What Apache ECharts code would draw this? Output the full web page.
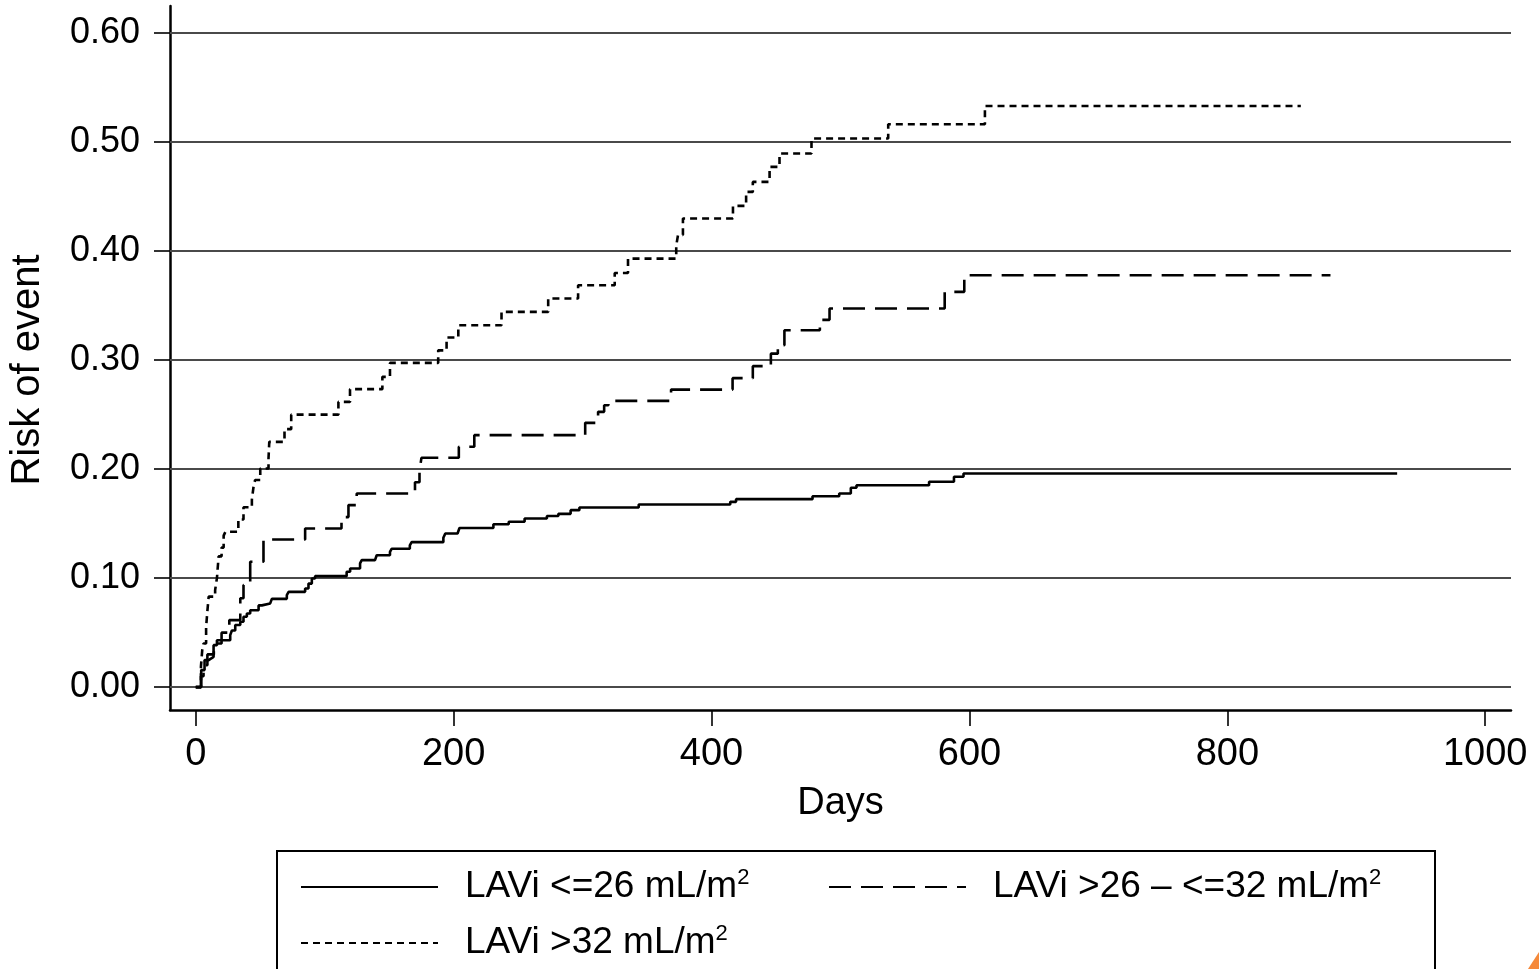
<!DOCTYPE html>
<html>
<head>
<meta charset="utf-8">
<script src="https://cdn.jsdelivr.net/npm/echarts@6/dist/echarts.min.js"></script>
<style>
  html, body { margin: 0; padding: 0; background: #fff; }
  #chart { width: 1539px; height: 969px; }
</style>
</head>
<body>
<div id="chart"></div>
<script>
// ── Данные ───────────────────────────────────────────────────────────────
var xTicks = [0, 200, 400, 600, 800, 1000];
var yTicks = [0, 0.1, 0.2, 0.3, 0.4, 0.5, 0.6];
var seriesNames = ['LAVi <=26 mL/m²', 'LAVi >26 – <=32 mL/m²', 'LAVi >32 mL/m²'];

// LAVi <=26
var lowDays = [0, 4.2, 6.8, 10, 12, 13.8, 16.4, 26.7, 28, 30.6, 34.5, 37, 39.6, 42.2, 48.7, 51.3, 57.7, 59,
  70.6, 72, 84.8, 87.4, 90, 92.5, 117, 119.7, 127.4, 128.7, 139, 140.3, 150.6, 152, 166, 167.4, 192, 193.5,
  203, 204.5, 230.8, 242.7, 255, 272.3, 281.2, 290.7, 297.5, 343.5, 414.5, 419, 478.3, 499, 508, 512.4,
  568.7, 588, 595.4, 931.7];
var lowRisk = [0, 0.0156, 0.0248, 0.0263, 0.0278, 0.0385, 0.043, 0.0477, 0.052, 0.057, 0.060, 0.0645, 0.0676,
  0.0706, 0.075, 0.0768, 0.078, 0.081, 0.0844, 0.0874, 0.0905, 0.095, 0.0997, 0.1018, 0.1058, 0.1089, 0.1135,
  0.1165, 0.118, 0.121, 0.124, 0.127, 0.130, 0.133, 0.137, 0.141, 0.1425, 0.146, 0.1495, 0.1517, 0.1547, 0.157,
  0.159, 0.1624, 0.1648, 0.1676, 0.170, 0.1725, 0.1752, 0.1777, 0.183, 0.1853, 0.1884, 0.193, 0.196, 0.196];

// LAVi >26 – <=32
var midDays = [0, 4, 6, 9, 14, 20, 26, 34.5, 37, 42.2, 52.5, 84.8, 113, 118.4, 124.8, 170, 173.5, 175, 204,
  216, 302, 312, 316.7, 320, 368.6, 416.3, 432, 446, 451.4, 456.5, 484, 491.5, 580.8, 596, 880];
var midRisk = [0, 0.01, 0.02, 0.03, 0.04, 0.05, 0.0615, 0.0815, 0.0936, 0.115, 0.1355, 0.1456, 0.156, 0.167,
  0.1777, 0.188, 0.198, 0.2104, 0.2205, 0.2312, 0.2425, 0.2526, 0.2587, 0.2627, 0.273, 0.2835, 0.2945, 0.306,
  0.3138, 0.3275, 0.337, 0.3474, 0.3627, 0.378, 0.378];

// LAVi >32
var highDays = [0, 4, 5, 6, 8, 9, 10, 15, 16.4, 17.7, 20, 21.6, 23, 33, 37, 43.5, 44.8, 46, 50, 56.4, 57, 68.8,
  74, 110.6, 119.6, 144.7, 150.6, 188, 194.5, 203.6, 237.1, 273.3, 296.5, 324.9, 335.2, 372.6, 374, 377.8,
  416.6, 426.8, 432, 445, 452.7, 477.5, 537, 612, 857];
var highRisk = [0, 0.019, 0.034, 0.04, 0.055, 0.07, 0.083, 0.089, 0.1, 0.12, 0.128, 0.139, 0.1425, 0.1538,
  0.165, 0.172, 0.184, 0.19, 0.2006, 0.21, 0.225, 0.2367, 0.25, 0.2617, 0.2734, 0.2847, 0.2975, 0.309, 0.3208,
  0.332, 0.3443, 0.3566, 0.3688, 0.38, 0.3932, 0.405, 0.415, 0.43, 0.4416, 0.4544, 0.4636, 0.4774, 0.4896,
  0.5034, 0.5165, 0.5333, 0.5333];

// ── Вспомогательные функции ─────────────────────────────────────────────
var FONT = "'Liberation Sans', Arial, sans-serif";

function _pairs(days, risk) {
  return days.map(function (d, i) { return [d, risk[i]]; });
}

function _stepSeries(name, days, risk, dash) {
  return {
    name: name,
    type: 'line',
    step: 'end',
    symbol: 'none',
    z: 3,
    color: '#000',
    data: _pairs(days, risk),
    lineStyle: { color: '#000', width: 2.6, type: dash }
  };
}

function _legend(name, left, top) {
  return {
    data: [name],
    left: left,
    top: top,
    itemWidth: 137,
    itemHeight: 20,
    selectedMode: false,
    // без кружка-маркера, только линия
    itemStyle: { color: 'rgba(0,0,0,0)', borderWidth: 0, opacity: 0 },
    formatter: function (n) { return '{a|' + n.replace('²', '') + '}{s|2}'; },
    textStyle: {
      color: '#000',
      fontFamily: FONT,
      rich: {
        a: { fontSize: 37, lineHeight: 40, fontFamily: FONT, color: '#000', padding: [0, 0, 0, 22] },
        s: { fontSize: 22, lineHeight: 22, fontFamily: FONT, color: '#000', verticalAlign: 'top' }
      }
    }
  };
}

// ── График ──────────────────────────────────────────────────────────────
var chart = echarts.init(document.getElementById('chart'));

var low = _stepSeries(seriesNames[0], lowDays, lowRisk, 'solid');
low.markLine = {
  silent: true,
  symbol: 'none',
  z: 1,
  animation: false,
  label: { show: false },
  lineStyle: { color: '#4a4a4a', width: 1.8, type: 'solid' },
  data: yTicks.map(function (v) { return { yAxis: v }; })
};

chart.setOption({
  animation: false,
  backgroundColor: '#fff',
  textStyle: { fontFamily: FONT },
  grid: { left: 169, right: 28, top: 6, bottom: 259 },
  legend: [
    _legend(seriesNames[0], 295, 862),
    _legend(seriesNames[1], 823, 862),
    _legend(seriesNames[2], 295, 918)
  ],
  xAxis: {
    type: 'value',
    min: -20,
    max: 1020,
    name: 'Days',
    nameLocation: 'middle',
    nameGap: 75,
    nameTextStyle: { fontSize: 38, color: '#000', fontFamily: FONT },
    axisLine: { show: true, onZero: false, lineStyle: { color: '#000', width: 2.5 } },
    axisTick: { show: true, customValues: xTicks, length: 16, lineStyle: { color: '#000', width: 1.6 } },
    axisLabel: {
      customValues: xTicks,
      margin: 26,
      fontSize: 38,
      color: '#000',
      fontFamily: FONT,
      formatter: function (v) { return String(v); }
    },
    splitLine: { show: false }
  },
  yAxis: {
    type: 'value',
    min: -0.021,
    max: 0.625,
    name: 'Risk of event',
    nameLocation: 'middle',
    nameRotate: 90,
    nameGap: 122,
    nameTextStyle: { fontSize: 40, color: '#000', fontFamily: FONT, padding: [0, 24, 0, 0] },
    axisLine: { show: true, onZero: false, lineStyle: { color: '#000', width: 2.5 } },
    axisTick: { show: true, customValues: yTicks, length: 16, lineStyle: { color: '#000', width: 1.6 } },
    axisLabel: {
      customValues: yTicks,
      margin: 30,
      fontSize: 36,
      color: '#000',
      fontFamily: FONT,
      formatter: function (v) { return v.toFixed(2); }
    },
    splitLine: { show: false }
  },
  graphic: [
    // рамка легенды
    { type: 'rect', shape: { x: 277, y: 851, width: 1158, height: 200 }, style: { fill: 'none', stroke: '#000', lineWidth: 2 }, silent: true },
    // оранжевый уголок справа внизу
    { type: 'polygon', shape: { points: [[1539, 952], [1539, 969], [1528, 969]] }, style: { fill: '#f5893a' }, silent: true }
  ],
  series: [
    low,
    _stepSeries(seriesNames[1], midDays, midRisk, [22, 10]),
    _stepSeries(seriesNames[2], highDays, highRisk, [7, 5])
  ]
});
</script>
</body>
</html>
